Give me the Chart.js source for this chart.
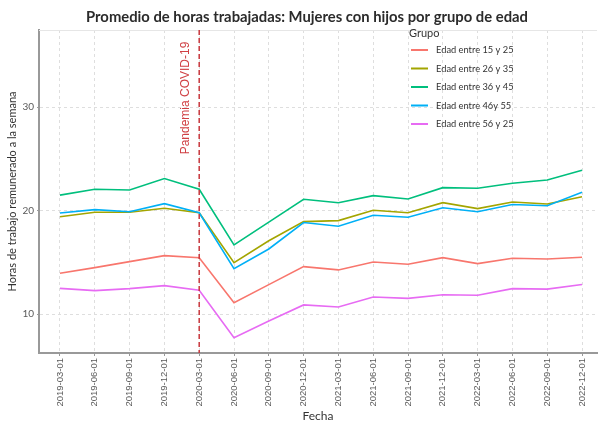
<!DOCTYPE html>
<html>
<head>
<meta charset="utf-8">
<script src="https://cdn.jsdelivr.net/npm/chart.js@4.4.0/dist/chart.umd.min.js"></script>
<style>
  html, body { margin: 0; padding: 0; background: #ffffff; }
  #wrap { width: 598px; height: 423px; }
</style>
</head>
<body>
<div id="wrap"><canvas id="lineChart" width="598" height="423"></canvas></div>
<script>
// Quarter dates on the x axis
const fechas = [
  "2019-03-01", "2019-06-01", "2019-09-01", "2019-12-01",
  "2020-03-01", "2020-06-01", "2020-09-01", "2020-12-01",
  "2021-03-01", "2021-06-01", "2021-09-01", "2021-12-01",
  "2022-03-01", "2022-06-01", "2022-09-01", "2022-12-01",
];

// Series names, in legend order
const grupos = [
  "Edad entre 15 y 25",
  "Edad entre 26 y 35",
  "Edad entre 36 y 45",
  "Edad entre 46y 55",
  "Edad entre 56 y 25",
];

// Average paid hours per week, one array per group
const edad15a25 = [13.96, 14.5, 15.08, 15.66, 15.46, 11.12, 12.86, 14.6, 14.28, 15.05, 14.83, 15.47, 14.89, 15.4, 15.34, 15.5];
const edad26a35 = [19.42, 19.84, 19.84, 20.23, 19.8, 14.98, 17.1, 18.94, 19.04, 20.04, 19.8, 20.77, 20.2, 20.84, 20.65, 21.35];
const edad36a45 = [21.5, 22.07, 22.0, 23.1, 22.07, 16.7, 18.9, 21.1, 20.77, 21.45, 21.13, 22.22, 22.16, 22.64, 22.96, 23.9];
const edad46a55 = [19.78, 20.1, 19.9, 20.68, 19.8, 14.4, 16.3, 18.85, 18.49, 19.55, 19.36, 20.28, 19.9, 20.6, 20.48, 21.77];
const edad56 = [12.5, 12.28, 12.47, 12.76, 12.31, 7.74, 9.35, 10.9, 10.7, 11.66, 11.53, 11.89, 11.83, 12.47, 12.43, 12.87];

// y axis tick values
const yTicks = [10, 20, 30];

// Where the COVID marker goes
const fechaCovid = "2020-03-01";

const titulo = "Promedio de horas trabajadas: Mujeres con hijos por grupo de edad";

window.onload = function () {
  const colores = ["#F8766D", "#A3A500", "#00BF7D", "#00B0F6", "#E76BF3"];
  const series = [edad15a25, edad26a35, edad36a45, edad46a55, edad56];

  const datasets = series.map((valores, i) => ({
    label: grupos[i],
    data: valores.map((v, j) => ({ x: j, y: v })),
    borderColor: colores[i],
    backgroundColor: colores[i],
    borderWidth: 1.6,
    pointRadius: 0,
    tension: 0,
    order: series.length - 1 - i, // later groups drawn on top, like ggplot
  }));

  // Title, covid vertical line, top panel border and the legend inside the plot
  const extras = {
    id: "extras",
    afterDatasetsDraw(chart) {
      const { ctx, chartArea, scales } = chart;
      const x = scales.x.getPixelForValue(fechas.indexOf(fechaCovid));

      ctx.save();
      // light border on top of the panel
      ctx.strokeStyle = "#e6e6e6";
      ctx.lineWidth = 1;
      ctx.beginPath();
      ctx.moveTo(chartArea.left, chartArea.top + 0.5);
      ctx.lineTo(chartArea.right, chartArea.top + 0.5);
      ctx.stroke();

      ctx.strokeStyle = "#c8373d";
      ctx.lineWidth = 1.5;
      ctx.setLineDash([5, 3]);
      ctx.beginPath();
      ctx.moveTo(x, chartArea.top);
      ctx.lineTo(x, chartArea.bottom);
      ctx.stroke();
      ctx.setLineDash([]);

      ctx.translate(x - 14, 98);
      ctx.rotate(-Math.PI / 2);
      ctx.fillStyle = "#d04044";
      ctx.font = "12px 'Liberation Sans', Arial, sans-serif";
      ctx.textAlign = "center";
      ctx.textBaseline = "middle";
      ctx.fillText("Pandemia COVID-19", 0, 0);
      ctx.restore();
    },
    afterDraw(chart) {
      const { ctx } = chart;
      ctx.save();
      // title, centred a bit right of the canvas middle as in the original
      ctx.fillStyle = "#2b2b2b";
      ctx.font = "bold 14.8px Lato, sans-serif";
      ctx.textAlign = "center";
      ctx.textBaseline = "alphabetic";
      ctx.fillText(titulo, 307, 22);

      ctx.fillStyle = "#333333";
      ctx.font = "11px Lato, sans-serif";
      ctx.textBaseline = "middle";
      ctx.textAlign = "left";
      ctx.fillText("Grupo", 409, 33);
      ctx.font = "9.3px Lato, sans-serif";
      grupos.forEach((g, i) => {
        const y = 50 + i * 18.5;
        ctx.strokeStyle = colores[i];
        ctx.lineWidth = 2;
        ctx.beginPath();
        ctx.moveTo(411, y);
        ctx.lineTo(428, y);
        ctx.stroke();
        ctx.fillStyle = "#333333";
        ctx.fillText(g, 436, y);
      });
      ctx.restore();
    },
  };

  const ctx = document.getElementById("lineChart").getContext("2d");
  new Chart(ctx, {
    type: "line",
    data: { datasets: datasets },
    options: {
      responsive: false,
      animation: false,
      layout: { padding: { top: 30, right: 1 } },
      plugins: {
        legend: { display: false },
        tooltip: { enabled: false },
        title: { display: false },
      },
      scales: {
        x: {
          type: "linear",
          min: -0.603,
          max: 15.43,
          afterBuildTicks: (scale) => {
            scale.ticks = fechas.map((_, i) => ({ value: i }));
          },
          afterFit: (scale) => {
            scale.height = 70;
          },
          ticks: {
            autoSkip: false,
            minRotation: 90,
            maxRotation: 90,
            padding: 2,
            color: "#5a5a5a",
            font: { family: "'Liberation Sans', Arial, sans-serif", size: 9.5 },
            callback: (v) => fechas[v],
          },
          grid: {
            color: "#dedede",
            lineWidth: 1,
            tickLength: 3,
            tickColor: "#999999",
            tickBorderDash: [],
          },
          border: { display: true, color: "#999999", width: 2, dash: [3, 3] },
          title: {
            display: true,
            text: "Fecha",
            color: "#333333",
            font: { family: "Lato", size: 12 },
            padding: { top: 0, bottom: 0 },
          },
        },
        y: {
          min: 6.26,
          max: 37.44,
          afterBuildTicks: (scale) => {
            scale.ticks = yTicks.map((v) => ({ value: v }));
          },
          afterFit: (scale) => {
            scale.width = 39;
          },
          ticks: {
            padding: 3,
            color: "#5a5a5a",
            font: { family: "Lato", size: 10 },
          },
          grid: {
            color: "#dedede",
            lineWidth: 1,
            tickLength: 2,
            tickColor: "#999999",
            tickBorderDash: [],
          },
          border: { display: true, color: "#999999", width: 2, dash: [3, 3] },
          title: {
            display: true,
            text: "Horas de trabajo remunerado a la semana",
            color: "#333333",
            font: { family: "Lato", size: 11 },
            padding: { top: 6, bottom: 0 },
          },
        },
      },
    },
    plugins: [extras],
  });
};
</script>
</body>
</html>
